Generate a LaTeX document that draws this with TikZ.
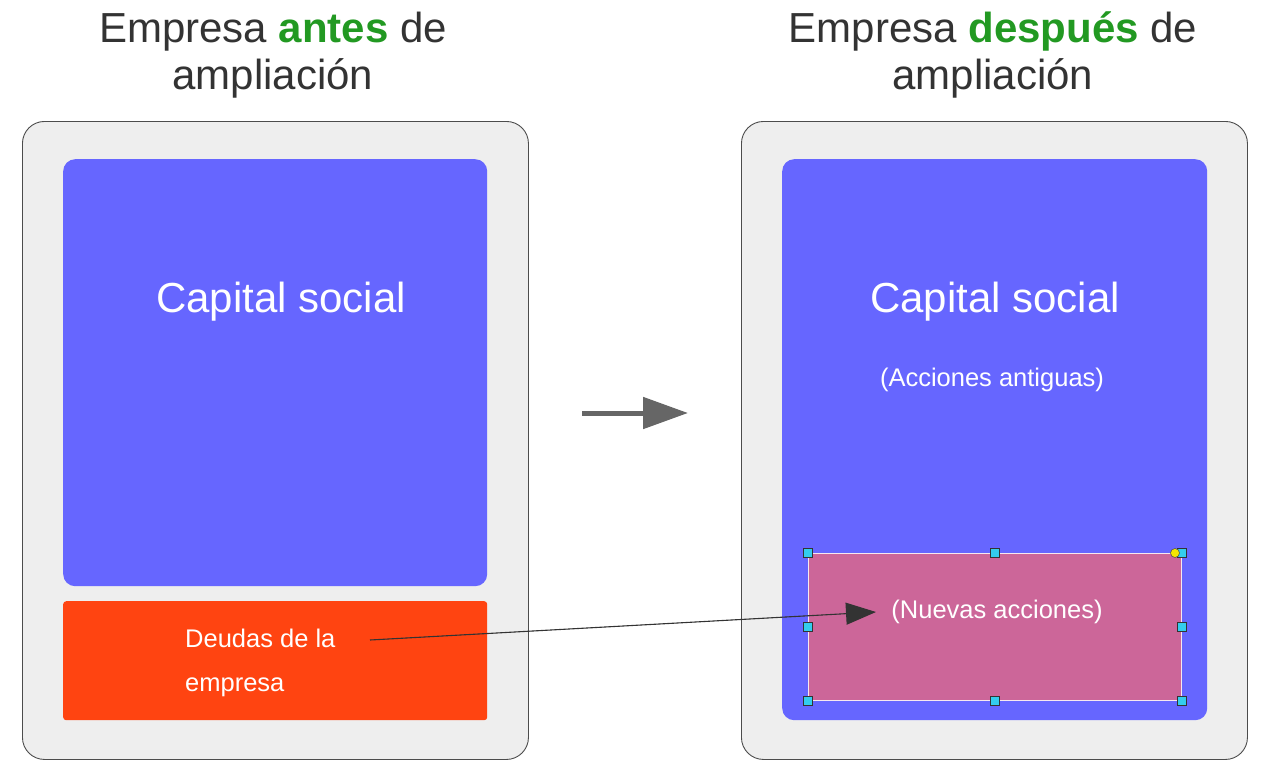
\documentclass[tikz,border=0pt]{standalone}
\usepackage{fontspec}
\setmainfont{Liberation Sans}
\usetikzlibrary{arrows.meta,positioning,calc}
\definecolor{panelgray}{HTML}{EEEEEE}
\definecolor{capblue}{HTML}{6666FF}
\definecolor{debtorange}{HTML}{FF4411}
\definecolor{newpink}{HTML}{CC6699}
\definecolor{handlecyan}{HTML}{33CCEE}
\definecolor{titlegreen}{HTML}{229922}
\definecolor{titlegray}{HTML}{333333}
\tikzset{
  >={Latex[length=2mm]},
  panel/.style={draw=black!70,fill=panelgray,rounded corners=22pt,line width=0.9pt,
    anchor=north west,inner sep=0pt,minimum width=506pt,minimum height=638pt},
  capbox/.style={fill=capblue,rounded corners=12pt,anchor=north west,inner sep=0pt},
  title/.style={align=center,text=titlegray,font=\fontsize{42}{47}\selectfont,inner sep=0pt},
  bigtext/.style={text=white,font=\fontsize{42}{47}\selectfont,inner sep=0pt},
  smalltext/.style={text=white,font=\fontsize{25.5}{44}\selectfont,inner sep=0pt},
  handle/.style={draw=black!80,fill=handlecyan,line width=0.7pt,minimum size=9.5pt,inner sep=0pt},
  link/.style={-{Triangle[length=30pt,width=22pt]},draw=black!80,fill=black!80,line width=1.1pt},
  bigarrow/.style={-{Triangle[length=45pt,width=31pt]},draw=black!60,line width=5pt},
}
\newcommand{\hl}[1]{\textcolor{titlegreen}{\textbf{#1}}}
\begin{document}
\begin{tikzpicture}[x=1pt,y=-1pt]
\fill[white] (0,0) rectangle (1266,761);
\useasboundingbox (0,0) rectangle (1266,761);
% titles
\node[title] (ttlbefore) at (273,55) {Empresa \hl{antes} de\\ampliación};
\node[title] (ttlafter) at (993,55) {Empresa \hl{después} de\\ampliación};
% left company
\node[panel] (before) at (22,121) {};
\node[capbox,minimum width=424pt,minimum height=427pt] (capleft) at (63,159) {};
\node[fill=debtorange,rounded corners=3pt,anchor=north west,inner sep=0pt,
  minimum width=424pt,minimum height=119pt] (debt) at (63,601) {};
\node[bigtext] (capleftlbl) at (281,302) {Capital social};
\node[smalltext,align=left,anchor=west] (deudas) at (185,663) {Deudas de la\\empresa};
% right company
\node[panel] (after) at (741,121) {};
\node[capbox,minimum width=425pt,minimum height=561pt] (capright) at (782,159) {};
\node[bigtext] (caprightlbl) at (995,302) {Capital social};
\node[smalltext] (antiguas) at (992,380) {(Acciones antiguas)};
\node[fill=newpink,draw=white!85!newpink,line width=1pt,anchor=north west,inner sep=0pt,
  minimum width=373pt,minimum height=147pt] (newbox) at (808,553) {};
\node[smalltext] (nuevas) at (997,612) {(Nuevas acciones)};
\foreach \a in {north west,north,north east,east,south east,south,south west,west}
  \node[handle] (h-\a) at (newbox.\a) {};
\fill[yellow!90!olive,draw=black!70,line width=0.5pt] (1175,553) circle (4.5pt);
% arrows
\coordinate (arrfrom) at (582,413);
\coordinate (arrto) at (688,413);
\draw[bigarrow] (arrfrom) -- (arrto);
\coordinate (linkfrom) at (370,640);
\coordinate (linkto) at (876,612);
\draw[link] (linkfrom) -- (linkto);
\end{tikzpicture}
\end{document}
